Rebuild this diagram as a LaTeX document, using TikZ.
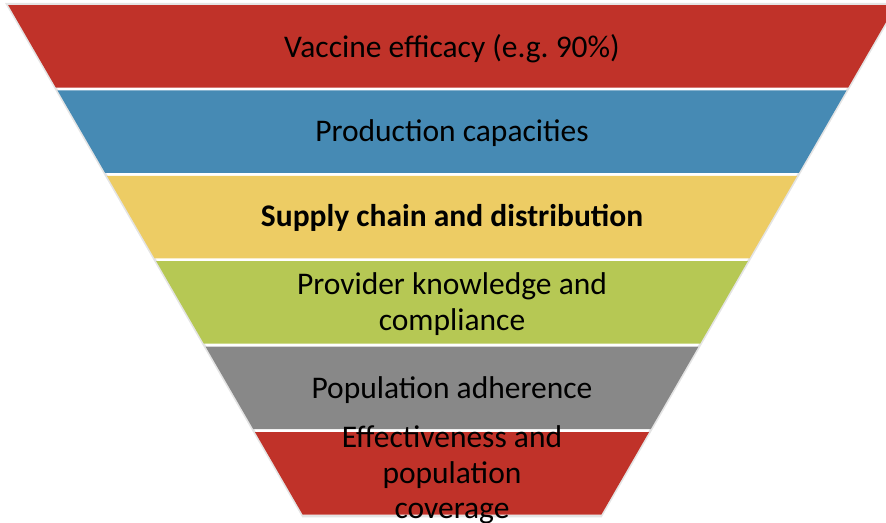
\documentclass[tikz,border=0pt]{standalone}
\usepackage{fontspec}
\setmainfont{Carlito}
\frenchspacing
\definecolor{fred}{RGB}{192,50,41}
\definecolor{fblue}{RGB}{70,138,180}
\definecolor{fyellow}{RGB}{237,204,100}
\definecolor{fgreen}{RGB}{182,200,84}
\definecolor{fgray}{RGB}{136,136,136}
\definecolor{edgegray}{RGB}{228,228,228}
\begin{document}
\begin{tikzpicture}[x=1pt,y=-1pt,
  lbl/.style={font=\fontsize{31.5}{35.5}\selectfont, text=black, align=center, inner sep=0pt},
  edgeline/.style={draw=edgegray, line width=2.5pt, line join=miter}]
\useasboundingbox (0,0) rectangle (886,522);
\clip (0,0) rectangle (886,522);
\pgfmathsetmacro{\cx}{452}
\pgfmathsetmacro{\sl}{0.578}
% outer light outline
\pgfmathsetmacro{\ya}{4}
\pgfmathsetmacro{\yb}{516}
\draw[edgeline, fill=white]
  ({\cx-(397+(87-\ya)*\sl)},\ya) -- ({\cx+(397+(87-\ya)*\sl)},\ya)
  -- ({\cx+(397+(87-\yb)*\sl)},\yb) -- ({\cx-(397+(87-\yb)*\sl)},\yb) -- cycle;
\foreach \i/\col in {0/fred,1/fblue,2/fyellow,3/fgreen,4/fgray,5/fred}{
  \pgfmathsetmacro{\yt}{5+\i*85.4}
  \pgfmathsetmacro{\ybt}{\yt+82.5}
  \fill[\col]
    ({\cx-(396.5+(87-\yt)*\sl)},\yt) -- ({\cx+(396.5+(87-\yt)*\sl)},\yt)
    -- ({\cx+(396.5+(87-\ybt)*\sl)},\ybt) -- ({\cx-(396.5+(87-\ybt)*\sl)},\ybt) -- cycle;
}
\node[lbl] (b1) at (452,49) {Vaccine efficacy (e.g. 90\%)};
\node[lbl] (b2) at (452,133) {Production capacities};
\node[lbl, font=\fontsize{31.5}{35.5}\selectfont\bfseries] (b3) at (452,218) {Supply chain and distribution};
\node[lbl] (b4) at (452,304) {Provider knowledge and\\compliance};
\node[lbl] (b5) at (452,390) {Population adherence};
\node[lbl] (b6) at (452,475) {Effectiveness and\\population\\coverage};
\end{tikzpicture}
\end{document}
